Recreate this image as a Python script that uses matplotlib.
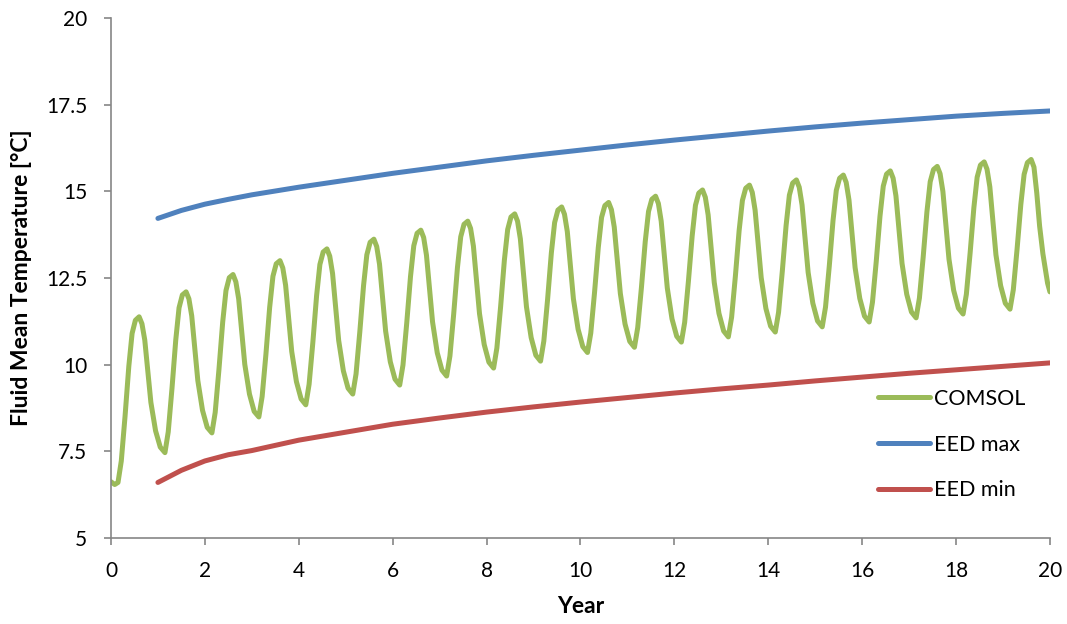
import numpy as np
import matplotlib
matplotlib.use("Agg")
import matplotlib.pyplot as plt
from matplotlib.ticker import FormatStrFormatter

plt.rcParams['font.family'] = ['Lato', 'DejaVu Sans']

# COMSOL: fluid mean temperature sampled at fixed phases within each year
start_year = [0.0, 0.08]
start_temp = [6.62, 6.54]
phase = [0.15, 0.22, 0.30, 0.38, 0.45, 0.52, 0.60, 0.66, 0.72, 0.78, 0.85, 0.95, 1.05]
comsol_temp = [
    [6.60, 7.22, 8.51, 9.95, 10.90, 11.28, 11.38, 11.18, 10.71, 9.89, 8.91, 8.09, 7.62],
    [7.46, 8.06, 9.32, 10.71, 11.64, 12.01, 12.10, 11.90, 11.41, 10.55, 9.54, 8.68, 8.19],
    [8.03, 8.62, 9.86, 11.23, 12.14, 12.51, 12.60, 12.39, 11.90, 11.04, 10.01, 9.15, 8.65],
    [8.49, 9.08, 10.29, 11.65, 12.55, 12.91, 13.00, 12.79, 12.29, 11.42, 10.38, 9.51, 9.01],
    [8.84, 9.43, 10.64, 11.99, 12.89, 13.25, 13.34, 13.13, 12.63, 11.75, 10.70, 9.82, 9.32],
    [9.15, 9.73, 10.94, 12.28, 13.17, 13.53, 13.62, 13.41, 12.90, 12.02, 10.97, 10.08, 9.58],
    [9.41, 9.99, 11.20, 12.54, 13.43, 13.79, 13.88, 13.67, 13.16, 12.28, 11.23, 10.34, 9.84],
    [9.67, 10.25, 11.46, 12.80, 13.69, 14.05, 14.14, 13.93, 13.42, 12.53, 11.47, 10.58, 10.07],
    [9.90, 10.48, 11.68, 13.02, 13.90, 14.26, 14.35, 14.14, 13.63, 12.73, 11.67, 10.78, 10.27],
    [10.10, 10.68, 11.88, 13.22, 14.10, 14.46, 14.55, 14.34, 13.84, 12.95, 11.90, 11.02, 10.52],
    [10.35, 10.91, 12.08, 13.38, 14.25, 14.59, 14.68, 14.47, 13.97, 13.09, 12.05, 11.17, 10.67],
    [10.50, 11.07, 12.24, 13.55, 14.42, 14.77, 14.86, 14.65, 14.14, 13.26, 12.21, 11.32, 10.82],
    [10.65, 11.22, 12.41, 13.72, 14.60, 14.95, 15.04, 14.83, 14.32, 13.43, 12.37, 11.48, 10.97],
    [10.80, 11.37, 12.55, 13.87, 14.74, 15.09, 15.18, 14.97, 14.46, 13.57, 12.51, 11.62, 11.11],
    [10.94, 11.51, 12.70, 14.01, 14.89, 15.24, 15.33, 15.12, 14.61, 13.72, 12.66, 11.77, 11.26],
    [11.09, 11.66, 12.84, 14.16, 15.03, 15.38, 15.47, 15.26, 14.75, 13.86, 12.80, 11.91, 11.40],
    [11.23, 11.80, 12.97, 14.28, 15.15, 15.50, 15.59, 15.38, 14.87, 13.98, 12.92, 12.03, 11.52],
    [11.35, 11.92, 13.10, 14.41, 15.28, 15.63, 15.72, 15.51, 15.00, 14.10, 13.04, 12.14, 11.63],
    [11.46, 12.03, 13.22, 14.53, 15.41, 15.76, 15.85, 15.64, 15.13, 14.23, 13.17, 12.28, 11.77],
    [11.60, 12.16, 13.33, 14.62, 15.49, 15.83, 15.92, 15.70, 14.95, 14.00, 13.20, 12.35],
]
end_year = [20.0]
end_temp = [12.10]

# EED results
eed_year = [1, 1.5, 2, 2.5, 3, 4, 5, 6, 7, 8, 9, 10, 11, 12, 13, 14, 15, 16, 17, 18, 19, 20]
eed_max = [14.22, 14.45, 14.63, 14.77, 14.90, 15.12, 15.32, 15.52, 15.70, 15.88, 16.04, 16.19,
           16.34, 16.48, 16.61, 16.74, 16.86, 16.97, 17.07, 17.17, 17.25, 17.32]
eed_min = [6.60, 6.95, 7.22, 7.40, 7.52, 7.82, 8.05, 8.28, 8.46, 8.63, 8.78, 8.92,
           9.05, 9.18, 9.30, 9.41, 9.53, 9.64, 9.75, 9.85, 9.95, 10.05]

x_ticks = np.arange(0, 21, 2)
y_ticks = [5, 7.5, 10, 12.5, 15, 17.5, 20]

comsol_x = list(start_year)
comsol_y = list(start_temp)
for yr, row in enumerate(comsol_temp):
    for p, v in zip(phase, row):
        comsol_x.append(yr + p)
        comsol_y.append(v)
comsol_x += end_year
comsol_y += end_temp

fig = plt.figure(figsize=(10.67, 6.24), dpi=100)
ax = fig.add_axes([0.104, 0.138, 0.880, 0.833])

lw = 3.6
ax.plot(comsol_x, comsol_y, color="#9BBB59", lw=lw, label="COMSOL",
        solid_capstyle="round", solid_joinstyle="round")
ax.plot(eed_year, eed_max, color="#4F81BD", lw=lw, label="EED max", solid_capstyle="round")
ax.plot(eed_year, eed_min, color="#C0504D", lw=lw, label="EED min", solid_capstyle="round")

ax.set_xlim(0, 20)
ax.set_ylim(5, 20)
ax.set_xticks(x_ticks)
ax.set_yticks(y_ticks)
ax.yaxis.set_major_formatter(FormatStrFormatter('%g'))

for side in ("top", "right"):
    ax.spines[side].set_visible(False)
for side in ("left", "bottom"):
    ax.spines[side].set_color("#868686")
    ax.spines[side].set_linewidth(1.2)
ax.tick_params(direction="out", length=5, width=1.2, color="#868686",
               labelsize=15, labelcolor="black")
ax.tick_params(axis="y", pad=12)
ax.tick_params(axis="x", pad=12)

ax.set_xlabel("Year", fontsize=16.5, fontweight="bold")
ax.set_ylabel("Fluid Mean Temperature [°C]", fontsize=16.5, fontweight="bold")
ax.xaxis.set_label_coords(0.5, -0.112)
ax.yaxis.set_label_coords(-0.084, 0.5)

ax.legend(loc="upper left", bbox_to_anchor=(0.823, 0.3766), bbox_transform=fig.transFigure,
          frameon=False, fontsize=15.5, handlelength=2.42, handletextpad=0.19,
          labelspacing=1.19, borderpad=0, borderaxespad=0)

fig.savefig("out.png", dpi=100)
